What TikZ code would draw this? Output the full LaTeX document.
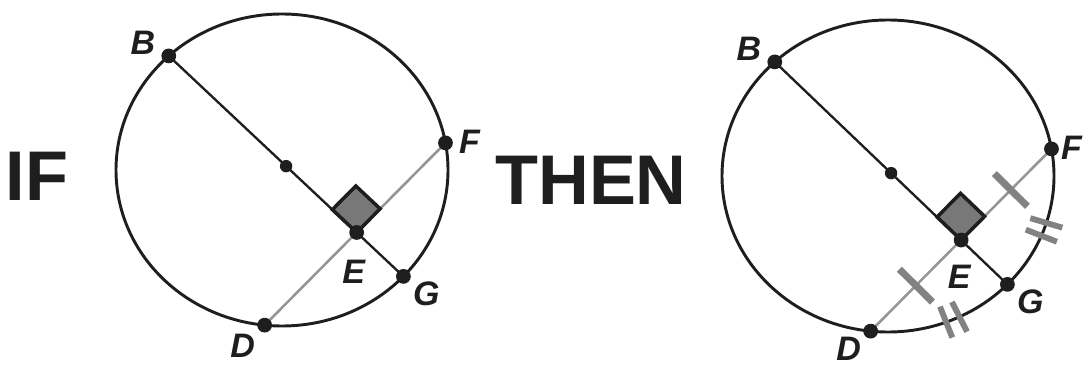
\documentclass[tikz,border=0pt]{standalone}
\usepackage{fontspec}
\setmainfont{Liberation Sans}
\usetikzlibrary{calc}
\definecolor{ink}{RGB}{30,30,30}
\definecolor{chordgray}{RGB}{150,150,150}
\definecolor{tickgray}{RGB}{130,130,130}
\definecolor{boxgray}{RGB}{120,120,120}

\begin{document}
\begin{tikzpicture}[x=0.03cm, y=-0.03cm,
  rim/.style={ink, line width=2.5pt},
  diam/.style={ink, line width=2pt},
  chord/.style={chordgray, line width=2.2pt},
  rightsq/.style={draw=ink, fill=boxgray, line width=3pt, line join=miter},
  onetick/.style={tickgray, line width=6pt},
  twotick/.style={tickgray, line width=5pt},
  lbl/.style={text=ink, inner sep=0pt, font=\fontsize{29}{29}\selectfont\bfseries\itshape},
  word/.style={text=ink, inner sep=0pt, font=\fontsize{60}{60}\selectfont\bfseries}]
  \useasboundingbox (0,0) rectangle (1084,367);

  \node[word] (ifw) at (37,176) {IF};
  \node[word] (thenw) at (591,180) {THEN};

  \coordinate (lO) at (282,170);
  \coordinate (lB) at ($(lO)+(227:166 and 156)$);
  \coordinate (lF) at ($(lO)+(-10:166 and 156)$);
  \coordinate (lG) at ($(lO)+(43:166 and 156)$);
  \coordinate (lD) at ($(lO)+(96:166 and 156)$);
  \coordinate (lC) at ($(lB)!0.5!(lG)$);
  \coordinate (lE) at (intersection of lB--lG and lD--lF);
  \coordinate (lP) at ($(lE)!1cm!(lF)$);
  \coordinate (lQ) at ($(lE)!1cm!(lB)$);
  \draw[rim] (lO) ellipse [x radius=166, y radius=156];
  \draw[diam] (lB) -- (lG);
  \draw[chord] (lD) -- (lF);
  \draw[rightsq] (lE) -- (lP) -- ($(lP)+(lQ)-(lE)$) -- (lQ) -- cycle;
  \foreach \p in {lB,lF,lG,lD,lE} \fill[ink] (\p) circle [radius=6.3pt];
  \fill[ink] (lC) circle [radius=5.3pt];
  \node[lbl] (lBt) at ($(lB)+(-26,-13)$) {B};
  \node[lbl] (lFt) at ($(lF)+(24,-1)$) {F};
  \node[lbl] (lEt) at ($(lE)+(-3,39)$) {E};
  \node[lbl] (lGt) at ($(lG)+(23,17)$) {G};
  \node[lbl] (lDt) at ($(lD)+(-22,21)$) {D};

  \coordinate (rO) at (888,176);
  \coordinate (rB) at ($(rO)+(227:166 and 156)$);
  \coordinate (rF) at ($(rO)+(-10:166 and 156)$);
  \coordinate (rG) at ($(rO)+(44:166 and 156)$);
  \coordinate (rD) at ($(rO)+(96:166 and 156)$);
  \coordinate (rC) at ($(rB)!0.5!(rG)$);
  \coordinate (rE) at (intersection of rB--rG and rD--rF);
  \coordinate (rP) at ($(rE)!1cm!(rF)$);
  \coordinate (rQ) at ($(rE)!1cm!(rB)$);
  \coordinate (rM1) at ($(rD)!0.5!(rE)$);
  \coordinate (rM2) at ($(rE)!0.55!(rF)$);
  \draw[rim] (rO) ellipse [x radius=166, y radius=156];
  \draw[diam] (rB) -- (rG);
  \draw[chord] (rD) -- (rF);
  \draw[onetick] ($(rM1)!0.7cm!90:(rE)$) -- ($(rM1)!0.7cm!-90:(rE)$);
  \draw[onetick] ($(rM2)!0.7cm!90:(rF)$) -- ($(rM2)!0.7cm!-90:(rF)$);
  \foreach \a in {17.5,22.5,64.5,69.5} {
    \coordinate (rT) at ($(rO)+(\a:166 and 156)$);
    \draw[twotick] ($(rT)!0.5cm!(rO)$) -- ($(rT)!-0.5cm!(rO)$);
  }
  \draw[rightsq] (rE) -- (rP) -- ($(rP)+(rQ)-(rE)$) -- (rQ) -- cycle;
  \foreach \p in {rB,rF,rG,rD,rE} \fill[ink] (\p) circle [radius=6.3pt];
  \fill[ink] (rC) circle [radius=5.3pt];
  \node[lbl] (rBt) at ($(rB)+(-26,-13)$) {B};
  \node[lbl] (rFt) at ($(rF)+(20,-1)$) {F};
  \node[lbl] (rEt) at ($(rE)+(-2,37)$) {E};
  \node[lbl] (rGt) at ($(rG)+(23,17)$) {G};
  \node[lbl] (rDt) at ($(rD)+(-22,18)$) {D};
\end{tikzpicture}
\end{document}
